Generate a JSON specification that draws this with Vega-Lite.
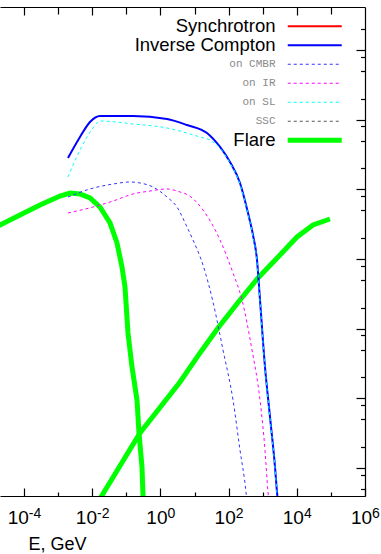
{
  "$schema": "https://vega.github.io/schema/vega-lite/v6.json",
  "width": 365,
  "height": 489,
  "autosize": "none",
  "padding": {"left": 0, "top": 7, "right": 16, "bottom": 58},
  "background": "white",
  "config": {
    "view": {"stroke": null},
    "axis": {"domainColor": "black", "tickColor": "black", "domainWidth": 1.2, "tickWidth": 1.2, "grid": false, "labelFont": "Liberation Sans", "titleFont": "Liberation Sans", "labelColor": "black", "titleColor": "black"}
  },
  "data": {
    "values": [
      {"s": "Flare", "p": 1, "E": 1.007e-5, "F": 2.61e-10},
      {"s": "Flare", "p": 1, "E": 1.977e-5, "F": 3.08e-10},
      {"s": "Flare", "p": 1, "E": 7.62e-5, "F": 4.28e-10},
      {"s": "Flare", "p": 1, "E": 2.944e-4, "F": 5.96e-10},
      {"s": "Flare", "p": 1, "E": 1.138e-3, "F": 8.02e-10},
      {"s": "Flare", "p": 1, "E": 2.234e-3, "F": 8.85e-10},
      {"s": "Flare", "p": 1, "E": 4.385e-3, "F": 8.57e-10},
      {"s": "Flare", "p": 1, "E": 8.61e-3, "F": 7.52e-10},
      {"s": "Flare", "p": 1, "E": 1.694e-2, "F": 5.57e-10},
      {"s": "Flare", "p": 1, "E": 3.327e-2, "F": 3.29e-10},
      {"s": "Flare", "p": 1, "E": 5.333e-2, "F": 1.698e-10},
      {"s": "Flare", "p": 1, "E": 7.48e-2, "F": 7.67e-11},
      {"s": "Flare", "p": 1, "E": 9.16e-2, "F": 3.96e-11},
      {"s": "Flare", "p": 1, "E": 1.122e-1, "F": 8.67e-12},
      {"s": "Flare", "p": 1, "E": 1.469e-1, "F": 2.82e-12},
      {"s": "Flare", "p": 1, "E": 2.061e-1, "F": 9.46e-13},
      {"s": "Flare", "p": 1, "E": 2.355e-1, "F": 3.18e-13},
      {"s": "Flare", "p": 1, "E": 2.884e-1, "F": 1.033e-13},
      {"s": "Flare", "p": 1, "E": 3.09e-1, "F": 4.09e-14},
      {"s": "Flare", "p": 1, "E": 3.15e-1, "F": 3.25e-14},
      {"s": "Flare", "p": 2, "E": 1.479e-2, "F": 3.25e-14},
      {"s": "Flare", "p": 2, "E": 2.523e-1, "F": 3.18e-13},
      {"s": "Flare", "p": 2, "E": 3.758, "F": 1.714e-12},
      {"s": "Flare", "p": 2, "E": 14.49, "F": 4.48e-12},
      {"s": "Flare", "p": 2, "E": 48.87, "F": 1.023e-11},
      {"s": "Flare", "p": 2, "E": 215.8, "F": 2.58e-11},
      {"s": "Flare", "p": 2, "E": 727.8, "F": 5.33e-11},
      {"s": "Flare", "p": 2, "E": 3214, "F": 1.14e-10},
      {"s": "Flare", "p": 2, "E": 10140, "F": 2.07e-10},
      {"s": "Flare", "p": 2, "E": 29850, "F": 3.08e-10},
      {"s": "Flare", "p": 2, "E": 93970, "F": 3.75e-10},

      {"s": "Inverse Compton", "p": 1, "E": 1.95e-3, "F": 2.82e-9},
      {"s": "Inverse Compton", "p": 1, "E": 4.385e-3, "F": 5.64e-9},
      {"s": "Inverse Compton", "p": 1, "E": 8.61e-3, "F": 9.25e-9},
      {"s": "Inverse Compton", "p": 1, "E": 1.694e-2, "F": 1.127e-8},
      {"s": "Inverse Compton", "p": 1, "E": 1.57e-1, "F": 1.127e-8},
      {"s": "Inverse Compton", "p": 1, "E": 1.56, "F": 1.021e-8},
      {"s": "Inverse Compton", "p": 1, "E": 6.026, "F": 8.38e-9},
      {"s": "Inverse Compton", "p": 1, "E": 23.23, "F": 6.43e-9},
      {"s": "Inverse Compton", "p": 1, "E": 55.98, "F": 4.06e-9},
      {"s": "Inverse Compton", "p": 1, "E": 109.9, "F": 2.47e-9},
      {"s": "Inverse Compton", "p": 1, "E": 215.8, "F": 1.233e-9},
      {"s": "Inverse Compton", "p": 1, "E": 370.7, "F": 4.57e-10},
      {"s": "Inverse Compton", "p": 1, "E": 518.8, "F": 2.21e-10},
      {"s": "Inverse Compton", "p": 1, "E": 680.8, "F": 9.68e-11},
      {"s": "Inverse Compton", "p": 1, "E": 833.7, "F": 2.58e-11},
      {"s": "Inverse Compton", "p": 1, "E": 1167, "F": 2.82e-12},
      {"s": "Inverse Compton", "p": 1, "E": 1637, "F": 5.4e-13},
      {"s": "Inverse Compton", "p": 1, "E": 2296, "F": 1.033e-13},
      {"s": "Inverse Compton", "p": 1, "E": 2624, "F": 4.52e-14},
      {"s": "Inverse Compton", "p": 1, "E": 2806, "F": 3.25e-14},

      {"s": "on CMBR", "p": 1, "E": 1.95e-3, "F": 7.76e-10},
      {"s": "on CMBR", "p": 1, "E": 8.61e-3, "F": 1.012e-9},
      {"s": "on CMBR", "p": 1, "E": 4.074e-2, "F": 1.191e-9},
      {"s": "on CMBR", "p": 1, "E": 1.282e-1, "F": 1.274e-9},
      {"s": "on CMBR", "p": 1, "E": 2.523e-1, "F": 1.233e-9},
      {"s": "on CMBR", "p": 1, "E": 6.067e-1, "F": 1.079e-9},
      {"s": "on CMBR", "p": 1, "E": 1.56, "F": 7.76e-10},
      {"s": "on CMBR", "p": 1, "E": 3.069, "F": 5.57e-10},
      {"s": "on CMBR", "p": 1, "E": 6.026, "F": 2.88e-10},
      {"s": "on CMBR", "p": 1, "E": 9.036, "F": 1.875e-10},
      {"s": "on CMBR", "p": 1, "E": 17.74, "F": 8.2e-11},
      {"s": "on CMBR", "p": 1, "E": 34.83, "F": 2.42e-11},
      {"s": "on CMBR", "p": 1, "E": 68.55, "F": 4.94e-12},
      {"s": "on CMBR", "p": 1, "E": 134.6, "F": 9.46e-13},
      {"s": "on CMBR", "p": 1, "E": 215.8, "F": 1.811e-13},
      {"s": "on CMBR", "p": 1, "E": 323.6, "F": 4.52e-14},
      {"s": "on CMBR", "p": 1, "E": 346.0, "F": 3.25e-14},

      {"s": "on IR", "p": 1, "E": 1.95e-3, "F": 4.57e-10},
      {"s": "on IR", "p": 1, "E": 1.054e-2, "F": 5.57e-10},
      {"s": "on IR", "p": 1, "E": 4.074e-2, "F": 6.79e-10},
      {"s": "on IR", "p": 1, "E": 1.57e-1, "F": 8.57e-10},
      {"s": "on IR", "p": 1, "E": 4.955e-1, "F": 9.46e-10},
      {"s": "on IR", "p": 1, "E": 1.56, "F": 1.012e-9},
      {"s": "on IR", "p": 1, "E": 3.758, "F": 9.16e-10},
      {"s": "on IR", "p": 1, "E": 6.442, "F": 8.3e-10},
      {"s": "on IR", "p": 1, "E": 17.74, "F": 5.05e-10},
      {"s": "on IR", "p": 1, "E": 55.98, "F": 1.875e-10},
      {"s": "on IR", "p": 1, "E": 134.6, "F": 6.3e-11},
      {"s": "on IR", "p": 1, "E": 247.2, "F": 2.58e-11},
      {"s": "on IR", "p": 1, "E": 485.3, "F": 4.94e-12},
      {"s": "on IR", "p": 1, "E": 833.7, "F": 9.46e-13},
      {"s": "on IR", "p": 1, "E": 1167, "F": 1.811e-13},
      {"s": "on IR", "p": 1, "E": 1429, "F": 4.52e-14},
      {"s": "on IR", "p": 1, "E": 1528, "F": 3.25e-14},

      {"s": "on SL", "p": 1, "E": 1.95e-3, "F": 1.503e-9},
      {"s": "on SL", "p": 1, "E": 4.385e-3, "F": 3.66e-9},
      {"s": "on SL", "p": 1, "E": 1.054e-2, "F": 7.59e-9},
      {"s": "on SL", "p": 1, "E": 1.694e-2, "F": 9.57e-9},
      {"s": "on SL", "p": 1, "E": 1.57e-1, "F": 8.67e-9},
      {"s": "on SL", "p": 1, "E": 1.56, "F": 7.59e-9},
      {"s": "on SL", "p": 1, "E": 14.49, "F": 5.64e-9},
      {"s": "on SL", "p": 1, "E": 28.44, "F": 5.1e-9},
      {"s": "on SL", "p": 1, "E": 55.98, "F": 3.92e-9},
      {"s": "on SL", "p": 1, "E": 109.9, "F": 2.39e-9},
      {"s": "on SL", "p": 1, "E": 215.8, "F": 1.191e-9},
      {"s": "on SL", "p": 1, "E": 370.7, "F": 4.43e-10},
      {"s": "on SL", "p": 1, "E": 518.8, "F": 2.14e-10},
      {"s": "on SL", "p": 1, "E": 680.8, "F": 9.36e-11},
      {"s": "on SL", "p": 1, "E": 833.7, "F": 2.49e-11},
      {"s": "on SL", "p": 1, "E": 1167, "F": 2.72e-12},
      {"s": "on SL", "p": 1, "E": 1637, "F": 5.22e-13},
      {"s": "on SL", "p": 1, "E": 2296, "F": 1.0e-13},
      {"s": "on SL", "p": 1, "E": 2624, "F": 4.38e-14},
      {"s": "on SL", "p": 1, "E": 2806, "F": 3.25e-14}
    ]
  },
  "encoding": {
    "color": {
      "field": "s",
      "type": "nominal",
      "scale": {
        "domain": ["Synchrotron", "Inverse Compton", "on CMBR", "on IR", "on SL", "SSC", "Flare"],
        "range": ["#ff0000", "#0000ff", "#3333ff", "#ff00ff", "#00ffff", "#555555", "#00ff00"]
      },
      "legend": {
        "orient": "none",
        "legendX": 305.5,
        "legendY": 10,
        "title": null,
        "padding": 0,
        "symbolType": "M-2.842,0L2.842,0",
        "symbolSize": 361,
        "rowPadding": 0,
        "labelAlign": "right",
        "labelOffset": -48.5,
        "labelLimit": 300,
        "encode": {
          "labels": {
            "update": {
              "font": {"signal": "indexof(['on CMBR','on IR','on SL','SSC'], datum.value) >= 0 ? 'Liberation Mono' : 'Liberation Sans'"},
              "fontSize": {"signal": "indexof(['on CMBR','on IR','on SL','SSC'], datum.value) >= 0 ? 11 : 18.5"},
              "fill": {"signal": "indexof(['on CMBR','on IR','on SL','SSC'], datum.value) >= 0 ? '#8a8a8a' : '#000000'"}
            }
          },
          "symbols": {
            "update": {
              "shape": {"signal": "datum.value === 'Flare' ? 'M-2.842,0L2.842,0M0,-0.4737M0,0.4737' : datum.value === 'Synchrotron' ? 'M-2.842,0L2.842,0M0,-0.7895M0,0.6842' : datum.value === 'Inverse Compton' ? 'M-2.842,0L2.842,0M0,-0.7895M0,0.7895' : 'M-2.842,0L2.842,0M0,-0.8947M0,0.8947'"},
              "stroke": {"scale": "color", "field": "value"},
              "fill": {"value": "transparent"},
              "strokeJoin": {"value": "round"},
              "strokeWidth": {"signal": "datum.value === 'Flare' ? 5 : (datum.value === 'Synchrotron' || datum.value === 'Inverse Compton') ? 2 : 1"},
              "strokeDash": {"signal": "indexof(['on CMBR','on IR','on SL','SSC'], datum.value) >= 0 ? [3,3] : [1,0]"}
            }
          }
        }
      }
    }
  },
  "layer": [
    {
      "transform": [{"filter": "datum.s === 'Flare'"}],
      "mark": {"type": "line", "strokeWidth": 5, "clip": true},
      "encoding": {
        "x": {"field": "E", "type": "quantitative", "scale": {"type": "log", "domain": [1.977e-5, 1e6]},
          "axis": {"orient": "bottom", "values": [1e-4, 1e-2, 1, 100, 10000, 1000000], "tickSize": -8, "labelFontSize": 19, "labelPadding": 35, "labelBaseline": "alphabetic", "labelAlign": "right",
            "labelOffset": {"condition": {"test": "datum.value < 0.5", "value": 4.3}, "value": 6.6},
            "labelFlush": false, "labelOverlap": false,
            "labelExpr": "'10'",
            "title": "E, GeV", "titleFontSize": 18, "titleFontWeight": "normal", "titleX": 57, "titleY": 53, "titleAlign": "center", "titleBaseline": "alphabetic", "titleAnchor": null}},
        "y": {"field": "F", "type": "quantitative", "scale": {"type": "log", "domain": [3.963e-14, 4.14e-7]},
          "axis": {"orient": "right", "values": [1e-13, 1e-12, 1e-11, 1e-10, 1e-9, 1e-8, 1e-7], "tickSize": -9, "labels": false, "title": null}},
        "detail": {"field": "p", "type": "nominal"}
      }
    },
    {
      "transform": [{"filter": "datum.s === 'Inverse Compton'"}],
      "mark": {"type": "line", "strokeWidth": 2, "clip": true, "interpolate": "monotone"},
      "encoding": {
        "x": {"field": "E", "type": "quantitative", "scale": {"type": "log", "domain": [1.977e-5, 1e6]},
          "axis": {"orient": "bottom", "values": [1e-3, 0.1, 10, 1000, 100000], "tickSize": -4, "labels": false, "domain": false, "title": null}},
        "y": {"field": "F", "type": "quantitative", "scale": {"type": "log", "domain": [3.963e-14, 4.14e-7]},
          "axis": {"orient": "right", "values": [5e-14, 8e-14, 2e-13, 5e-13, 8e-13, 2e-12, 5e-12, 8e-12, 2e-11, 5e-11, 8e-11, 2e-10, 5e-10, 8e-10, 2e-9, 5e-9, 8e-9, 2e-8, 5e-8, 8e-8, 2e-7], "tickSize": -4.5, "labels": false, "domain": false, "title": null}}
      }
    },
    {
      "transform": [{"filter": "datum.s === 'on CMBR'"}],
      "mark": {"type": "line", "strokeWidth": 1, "strokeDash": [3, 3], "clip": true, "interpolate": "monotone"},
      "encoding": {
        "x": {"field": "E", "type": "quantitative", "scale": {"type": "log", "domain": [1.977e-5, 1e6]},
          "axis": {"orient": "top", "values": [1e-4, 1e-2, 1, 100, 10000], "tickSize": -8, "labels": false, "title": null}},
        "y": {"field": "F", "type": "quantitative", "scale": {"type": "log", "domain": [3.963e-14, 4.14e-7]}, "axis": null}
      }
    },
    {
      "transform": [{"filter": "datum.s === 'on IR'"}],
      "mark": {"type": "line", "strokeWidth": 1, "strokeDash": [3, 3], "clip": true, "interpolate": "monotone"},
      "encoding": {
        "x": {"field": "E", "type": "quantitative", "scale": {"type": "log", "domain": [1.977e-5, 1e6]},
          "axis": {"orient": "bottom", "values": [1e-4, 1e-2, 1, 100, 10000, 1000000], "ticks": false, "tickSize": 0, "domain": false, "title": null,
            "labelFontSize": 14, "labelPadding": 21, "labelBaseline": "alphabetic", "labelAlign": "left",
            "labelOffset": {"condition": {"test": "datum.value < 0.5", "value": 4.3}, "value": 6.6},
            "labelFlush": false, "labelOverlap": false,
            "labelExpr": "'' + round(log(datum.value) / LN10)"}},
        "y": {"field": "F", "type": "quantitative", "scale": {"type": "log", "domain": [3.963e-14, 4.14e-7]}, "axis": null}
      }
    },
    {
      "transform": [{"filter": "datum.s === 'on SL'"}],
      "mark": {"type": "line", "strokeWidth": 1, "strokeDash": [3, 3], "clip": true, "interpolate": "monotone"},
      "encoding": {
        "x": {"field": "E", "type": "quantitative", "scale": {"type": "log", "domain": [1.977e-5, 1e6]},
          "axis": {"orient": "top", "values": [1e-3, 0.1, 10, 1000, 100000], "tickSize": -7, "labels": false, "domain": false, "title": null}},
        "y": {"field": "F", "type": "quantitative", "scale": {"type": "log", "domain": [3.963e-14, 4.14e-7]}, "axis": null}
      }
    }
  ],
  "resolve": {"axis": {"x": "independent", "y": "independent"}}
}
